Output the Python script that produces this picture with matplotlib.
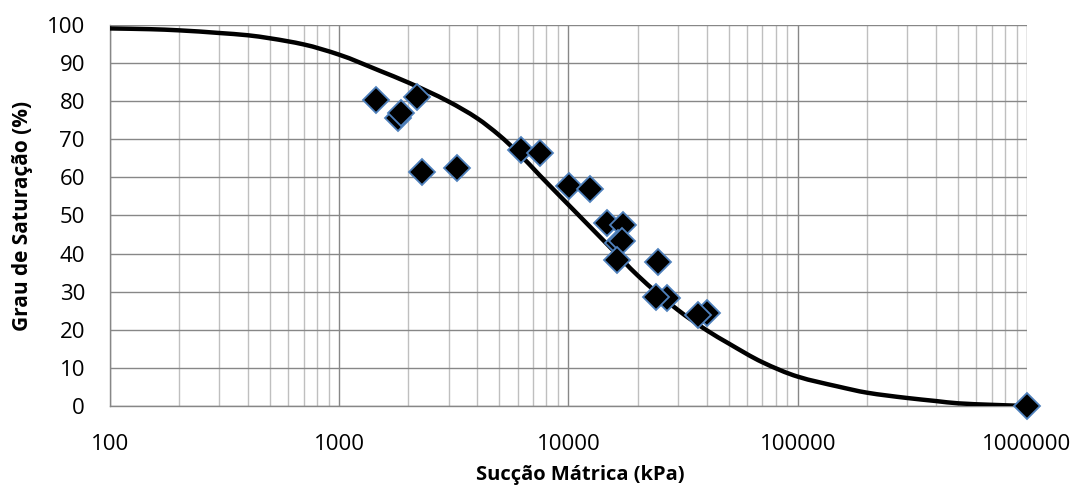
import matplotlib
matplotlib.use("Agg")
import numpy as np
import matplotlib.pyplot as plt
from matplotlib.path import Path
from matplotlib.patches import PathPatch
from matplotlib.ticker import LogLocator, FixedLocator, FixedFormatter, NullFormatter

# Measured points: matric suction (kPa) and degree of saturation (%)
suction_data = [1446, 1807, 1855, 2186, 2285, 3250, 6180, 7500, 10070, 12470,
                14660, 17330, 16400, 17030, 16300, 24600, 26770, 24200,
                40000, 36800, 1000000]
saturation_data = [80.3, 75.6, 76.8, 81.2, 61.5, 62.4, 67.2, 66.3, 57.7, 56.9,
                   48.1, 47.5, 42.8, 43.4, 38.3, 37.9, 28.3, 28.7,
                   24.3, 23.9, 0.0]

# Fitted retention curve
suction_curve = [100, 150, 200, 300, 400, 500, 700, 1000, 1500, 2000, 3000,
                 4000, 5000, 6000, 7500, 10000, 15000, 20000, 30000, 40000,
                 50000, 70000, 100000, 150000, 200000, 300000, 400000, 500000,
                 700000, 1000000]
saturation_curve = [99.1, 98.9, 98.6, 97.9, 97.3, 96.5, 94.9, 92.2, 88.0, 84.9,
                    79.9, 75.5, 71.0, 66.6, 60.5, 52.8, 42.0, 34.3, 25.2, 19.9,
                    16.4, 11.5, 7.7, 5.1, 3.5, 2.1, 1.3, 0.7, 0.3, 0.0]

x_ticks = [100, 1000, 10000, 100000, 1000000]
x_tick_labels = ["100", "1000", "10000", "100000", "1000000"]
y_ticks = list(range(0, 101, 10))


def smoothed_path(xs, ys):
    """Smoothed line through the points: cubic Hermite segments in log10(x)."""
    u = np.log10(np.asarray(xs, float))
    v = np.asarray(ys, float)
    n = len(u)
    h = np.diff(u)
    d = np.diff(v) / h
    m = np.zeros(n)
    for i in range(1, n - 1):
        if d[i - 1] * d[i] > 0:
            w1 = 2 * h[i] + h[i - 1]
            w2 = h[i] + 2 * h[i - 1]
            m[i] = (w1 + w2) / (w1 / d[i - 1] + w2 / d[i])
    m[0] = d[0]
    m[-1] = d[-1]
    verts = [(u[0], v[0])]
    codes = [Path.MOVETO]
    for i in range(n - 1):
        verts += [(u[i] + h[i] / 3, v[i] + m[i] * h[i] / 3),
                  (u[i + 1] - h[i] / 3, v[i + 1] - m[i + 1] * h[i] / 3),
                  (u[i + 1], v[i + 1])]
        codes += [Path.CURVE4] * 3
    verts = np.array(verts)
    verts[:, 0] = 10.0 ** verts[:, 0]
    return Path(verts, codes)


plt.rcParams['font.family'] = ['Open Sans', 'DejaVu Sans']

fig = plt.figure(figsize=(10.77, 4.96), dpi=100)
ax = fig.add_axes([0.1021, 0.1815, 0.8515, 0.7681])

ax.set_xscale("log")
ax.set_xlim(100, 1000000)
ax.set_ylim(0, 100)

ax.add_patch(PathPatch(smoothed_path(suction_curve, saturation_curve),
                       facecolor="none", edgecolor="black", lw=3.2,
                       capstyle="butt", transform=ax.transData, zorder=3))
ax.plot(suction_data, saturation_data, linestyle="none", marker="D",
        markersize=13.5, markerfacecolor="black", markeredgecolor="#4F81BD",
        markeredgewidth=1.3, zorder=4, clip_on=False)

ax.xaxis.set_major_locator(FixedLocator(x_ticks))
ax.xaxis.set_major_formatter(FixedFormatter(x_tick_labels))
ax.xaxis.set_minor_locator(LogLocator(base=10, subs=range(2, 10)))
ax.xaxis.set_minor_formatter(NullFormatter())
ax.set_yticks(y_ticks)

ax.grid(which="major", axis="both", color="#878787", lw=1.0, zorder=1)
ax.grid(which="minor", axis="x", color="#BFBFBF", lw=1.0, zorder=1)
ax.set_axisbelow(True)

for side in ["top", "right"]:
    ax.spines[side].set_visible(False)
for side in ["left", "bottom"]:
    ax.spines[side].set_color("#878787")
    ax.spines[side].set_linewidth(1.0)

ax.tick_params(axis="both", which="both", length=0, labelsize=16,
               labelcolor="#000000")
ax.tick_params(axis="x", pad=20)
ax.tick_params(axis="y", pad=18)

ax.set_xlabel("Sucção Mátrica (kPa)", fontsize=14.5, fontweight="bold")
ax.xaxis.set_label_coords((580 - 110) / 917, -0.155)
ax.set_ylabel("Grau de Saturação (%)", fontsize=15, fontweight="bold",
              labelpad=10)

fig.savefig("out.png", dpi=100, facecolor="white")
